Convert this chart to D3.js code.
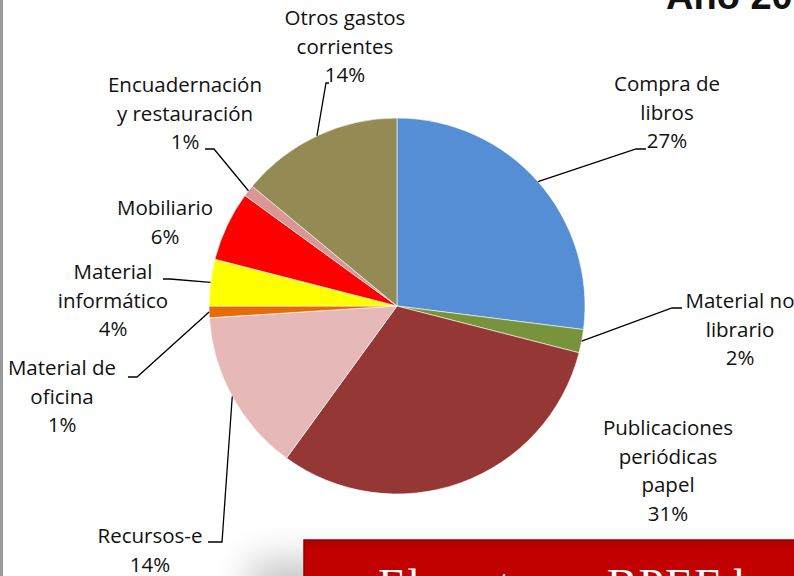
<!DOCTYPE html>
<html>
<head>
<meta charset="utf-8">
<script src="https://cdn.jsdelivr.net/npm/d3@7"></script>
<style>
  html, body { margin: 0; padding: 0; background: #fff; }
  svg { display: block; }
</style>
</head>
<body>
<svg id="chart" width="794" height="576"></svg>
<script>
// Spending categories (clockwise from 12 o'clock) and their shares in %
const categories = [
  "Compra de libros",
  "Material no librario",
  "Publicaciones periódicas papel",
  "Recursos-e",
  "Material de oficina",
  "Material informático",
  "Mobiliario",
  "Encuadernación y restauración",
  "Otros gastos corrientes"
];
const shares = [27, 2, 31, 14, 1, 4, 6, 1, 14];
const labelLines = [
  ["Compra de", "libros"],
  ["Material no", "librario"],
  ["Publicaciones", "periódicas", "papel"],
  ["Recursos-e"],
  ["Material de", "oficina"],
  ["Material", "informático"],
  ["Mobiliario"],
  ["Encuadernación", "y restauración"],
  ["Otros gastos", "corrientes"]
];
const sliceColors = [
  "#558ED5", "#77933C", "#953735", "#E6B9B8", "#E46C0A",
  "#FFFF00", "#FF0000", "#D99694", "#948A54"
];

// Label placement: centre x, first baseline, and optional leader (elbow, end)
const labelLayout = [
  { x: 667, y: 91,  leader: [[636, 149], [646, 149]] },
  { x: 740, y: 308, leader: [[672, 308], [682, 308]] },
  { x: 668, y: 435, leader: null },
  { x: 150, y: 543, leader: [[222, 542], [208, 542]] },
  { x: 62,  y: 375, leader: [[137, 377], [128, 377]] },
  { x: 113, y: 279, leader: [[170, 279], [163, 279]] },
  { x: 165, y: 215, leader: null },
  { x: 185, y: 92,  leader: [[214, 149], [205, 149]] },
  { x: 345, y: 25,  leader: [[326, 83], [329, 83]] }
];

const svg = d3.select("#chart");
const W = 794, H = 576;
const cx = 397, cy = 306, R = 188;
const lineH = 28.5;
const labelFont = "'Open Sans', Lato, sans-serif";

const data = categories.map((c, i) => ({ name: c, value: shares[i], i }));

// Left frame edge
svg.append("rect").attr("x", 0).attr("y", 0).attr("width", 3).attr("height", H)
  .attr("fill", "#9a9a9a");

// Title (runs off the top edge)
svg.append("text")
  .attr("x", 666).attr("y", 9)
  .attr("font-family", "'Liberation Sans', Arial, sans-serif")
  .attr("font-weight", "bold")
  .attr("font-size", 38)
  .attr("fill", "#111")
  .text("Año 2013");

const pie = d3.pie().value(d => d.value).sort(null);
const arcs = pie(data);
const arc = d3.arc().innerRadius(0).outerRadius(R);

const g = svg.append("g").attr("transform", `translate(${cx},${cy})`);
g.selectAll("path.slice")
  .data(arcs)
  .join("path")
  .attr("class", "slice")
  .attr("d", arc)
  .attr("fill", d => sliceColors[d.data.i])
  .attr("stroke", "#ffffff")
  .attr("stroke-width", 0.6);

// Leader lines from the slice edge at its mid-angle
arcs.forEach(a => {
  const lay = labelLayout[a.data.i];
  if (!lay.leader) return;
  const mid = (a.startAngle + a.endAngle) / 2;
  const sx = cx + R * Math.sin(mid);
  const sy = cy - R * Math.cos(mid);
  const pts = [[sx, sy], lay.leader[0], lay.leader[1]];
  svg.append("path")
    .attr("d", d3.line()(pts))
    .attr("fill", "none")
    .attr("stroke", "#000")
    .attr("stroke-width", 1.3);
});

// Category labels with percentage
arcs.forEach(a => {
  const i = a.data.i;
  const lay = labelLayout[i];
  const lines = labelLines[i].concat([d3.format("d")(a.data.value) + "%"]);
  const t = svg.append("text")
    .attr("font-family", labelFont)
    .attr("font-size", 20.5)
    .attr("fill", "#111")
    .attr("text-anchor", "middle");
  lines.forEach((ln, k) => {
    t.append("tspan").attr("x", lay.x).attr("y", lay.y + k * lineH).text(ln);
  });
});

// Red banner overlapping the lower right corner, with soft shadow
const defs = svg.append("defs");
defs.append("filter").attr("id", "soft")
  .attr("x", "-50%").attr("y", "-50%").attr("width", "200%").attr("height", "200%")
  .append("feGaussianBlur").attr("stdDeviation", 18);
const grad = defs.append("linearGradient").attr("id", "banner")
  .attr("x1", 0).attr("y1", 0).attr("x2", 0).attr("y2", 1);
grad.append("stop").attr("offset", 0).attr("stop-color", "#b00000");
grad.append("stop").attr("offset", 0.15).attr("stop-color", "#c20000");
grad.append("stop").attr("offset", 1).attr("stop-color", "#c20000");

svg.append("rect")
  .attr("x", 250).attr("y", 560).attr("width", 620).attr("height", 80)
  .attr("fill", "#000").attr("opacity", 0.22).attr("filter", "url(#soft)");
svg.append("rect")
  .attr("x", 304).attr("y", 540).attr("width", 520).attr("height", 80)
  .attr("fill", "url(#banner)")
  .attr("stroke", "#8e0000").attr("stroke-width", 1.5);
svg.append("text")
  .attr("x", 378).attr("y", 601)
  .attr("font-family", "'Liberation Serif', 'DejaVu Serif', serif")
  .attr("font-size", 46)
  .attr("fill", "#ffffff")
  .attr("textLength", 400)
  .text("El gasto en BPEF ha");
</script>
</body>
</html>
